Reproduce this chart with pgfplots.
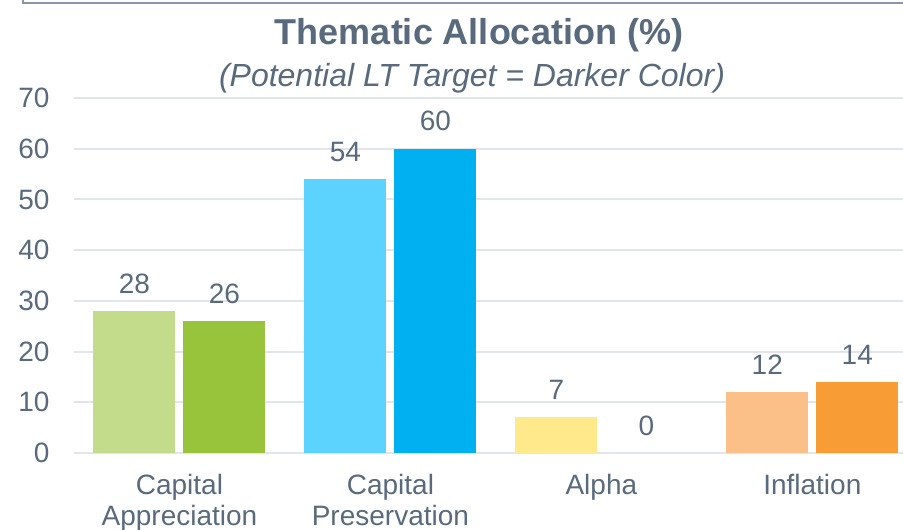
\documentclass[border=0pt]{standalone}
\usepackage{pgfplots}
\pgfplotsset{compat=1.18}
\usepackage{fontspec}
\setmainfont{Liberation Sans}

\definecolor{txt}{HTML}{586A7B}
\definecolor{gridc}{HTML}{E2E6EA}
\definecolor{framec}{HTML}{8A96A3}
\definecolor{grnL}{HTML}{C3DC8C}
\definecolor{grnD}{HTML}{98C43C}
\definecolor{bluL}{HTML}{5BD3FE}
\definecolor{bluD}{HTML}{00B0F0}
\definecolor{ylwL}{HTML}{FFE98B}
\definecolor{orgL}{HTML}{FAC088}
\definecolor{orgD}{HTML}{F89C35}

\newcommand{\fs}{\fontsize{28}{31}\selectfont}

\pgfplotsset{
  lbar/.style={ybar, bar width=82pt, bar shift=-45pt, draw=none, fill=#1,
    nodes near coords, every node near coord/.style={font=\fs, text=txt, yshift=14pt, xshift=-45pt}},
  dbar/.style={ybar, bar width=82pt, bar shift=45pt, draw=none, fill=#1,
    nodes near coords, every node near coord/.style={font=\fs, text=txt, yshift=14pt, xshift=45pt}},
}

\begin{document}
\begin{tikzpicture}[x=1pt,y=1pt]
\useasboundingbox (0,0) rectangle (903,530);
\draw[framec, line width=1.5pt] (23,535) -- (23,527) -- (910,527);
\node[txt, font=\fontsize{36}{40}\selectfont\bfseries] at (479,495) {Thematic Allocation (\%)};
\node[txt, font=\fontsize{32}{36}\selectfont\itshape] at (472,452) {(Potential LT Target = Darker Color)};
\begin{axis}[
  at={(74pt,77pt)}, anchor=south west,
  scale only axis, width=829pt, height=355pt,
  xmin=-0.5, xmax=3.43, ymin=0, ymax=70,
  ytick={0,10,...,70},
  xtick={0,1,2,3},
  xticklabels={{Capital\\Appreciation},{Capital\\Preservation},Alpha,Inflation},
  xticklabel style={align=center, font=\fs, text=txt, yshift=-18pt},
  yticklabel style={font=\fs, text=txt, xshift=-21pt},
  /pgf/number format/assume math mode=true,
  axis line style={draw=none},
  major tick length=0pt,
  ymajorgrids, grid style={gridc, line width=2pt},
  clip=false,
]
\addplot[lbar=grnL] coordinates {(0,28)};
\addplot[dbar=grnD] coordinates {(0,26)};
\addplot[lbar=bluL] coordinates {(1,54)};
\addplot[dbar=bluD] coordinates {(1,60)};
\addplot[lbar=ylwL] coordinates {(2,7)};
\addplot[dbar=none] coordinates {(2,0)};
\addplot[lbar=orgL] coordinates {(3,12)};
\addplot[dbar=orgD] coordinates {(3,14)};
\end{axis}
\end{tikzpicture}
\end{document}
